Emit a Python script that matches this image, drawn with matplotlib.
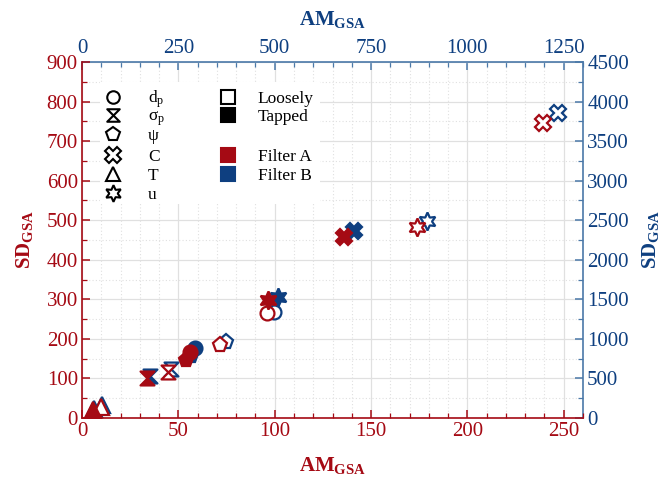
import matplotlib
matplotlib.use("Agg")
import matplotlib.pyplot as plt
from matplotlib.path import Path
from matplotlib.patches import Rectangle
from matplotlib.ticker import MultipleLocator

plt.rcParams['font.family'] = ['Liberation Serif', 'DejaVu Serif']
plt.rcParams['mathtext.fontset'] = 'custom'
plt.rcParams['mathtext.rm'] = 'Liberation Serif'
plt.rcParams['mathtext.it'] = 'Liberation Serif:italic'
plt.rcParams['mathtext.bf'] = 'Liberation Serif:bold'

# ---- data ----
props = ['dp', 'sigma_p', 'psi', 'C', 'T', 'u']
prop_labels = [r'd$_\mathregular{p}$', r'σ$_\mathregular{p}$', 'ψ', 'C', 'T', 'u']

# Filter A (bottom / left axes: AM_GSA, SD_GSA)
A_loose_x = [96, 44.6, 71.6, 239, 9.9, 174]
A_loose_y = [265, 116, 184, 745, 28, 482]
A_tap_x = [56, 33.7, 54, 136, 5.7, 96.5]
A_tap_y = [167, 101, 146, 457, 20, 298]

# Filter B (top / right axes)
B_loose_x = [498, 231, 374, 1235, 53, 895]
B_loose_y = [1340, 619, 961, 3855, 164, 2490]
B_tap_x = [293, 176, 283, 706, 30, 509]
B_tap_y = [885, 531, 784, 2364, 110, 1530]

RED = '#A50A14'
BLUE = '#0E3F80'
BLUE_SP = '#4A78A8'

hourglass = Path([(-1, 1), (1, 1), (-1, -1), (1, -1), (-1, 1)],
                 [Path.MOVETO, Path.LINETO, Path.LINETO, Path.LINETO, Path.CLOSEPOLY])
markers = ['o', hourglass, 'p', 'X', '^', (6, 1, 0)]
msizes = [10, 10, 11, 12, 11, 13]

fig = plt.figure(figsize=(6.72, 4.79), dpi=100)
pos = [82/672, 1-418/479, (583-82)/672, (418-62)/479]

axB = fig.add_axes(pos, zorder=1)
axA = fig.add_axes(pos, zorder=2)
axA.patch.set_visible(False)

# Blue axes: top / right
axB.set_xlim(0, 1300)
axB.set_ylim(0, 4500)
axB.xaxis.tick_top()
axB.yaxis.tick_right()
axB.xaxis.set_major_locator(MultipleLocator(250))
axB.xaxis.set_minor_locator(MultipleLocator(50))
axB.yaxis.set_major_locator(MultipleLocator(500))
axB.yaxis.set_minor_locator(MultipleLocator(250))
axB.grid(which='major', color='#e0e0e0', lw=0.9, ls='-')
axB.grid(which='minor', color='#e0e0e0', lw=0.8, ls=(0, (1, 2)))
axB.set_axisbelow(True)
for s in ['left', 'bottom']:
    axB.spines[s].set_visible(False)
axB.spines['top'].set_color(BLUE_SP)
axB.spines['right'].set_color(BLUE_SP)
axB.spines['top'].set_linewidth(1.2)
axB.spines['right'].set_linewidth(1.2)
axB.tick_params(which='both', direction='in', colors=BLUE_SP, labelcolor=BLUE,
                labelsize=15, top=True, right=True, bottom=False, left=False, pad=3)
axB.tick_params(which='major', length=6, width=1.1)
axB.tick_params(which='minor', length=3.5, width=0.9)
axB.xaxis.set_label_position('top')
axB.yaxis.set_label_position('right')
axB.set_xlabel(r'AM$_{\mathbf{GSA}}$', color=BLUE, fontsize=15, fontweight='bold', labelpad=10)
axB.set_ylabel(r'SD$_{\mathbf{GSA}}$', color=BLUE, fontsize=15, fontweight='bold', labelpad=8)

for i in range(len(props)):
    axB.plot(B_loose_x[i], B_loose_y[i], ls='none', marker=markers[i], ms=msizes[i],
             mfc='white', mec=BLUE, mew=1.6)
    axB.plot(B_tap_x[i], B_tap_y[i], ls='none', marker=markers[i], ms=msizes[i],
             mfc=BLUE, mec=BLUE, mew=1.6)

# Red axes: bottom / left
axA.set_xlim(0, 260)
axA.set_ylim(0, 900)
axA.xaxis.set_major_locator(MultipleLocator(50))
axA.xaxis.set_minor_locator(MultipleLocator(10))
axA.yaxis.set_major_locator(MultipleLocator(100))
axA.yaxis.set_minor_locator(MultipleLocator(50))
for s in ['right', 'top']:
    axA.spines[s].set_visible(False)
axA.spines['left'].set_color(RED)
axA.spines['bottom'].set_color(RED)
axA.spines['left'].set_linewidth(1.2)
axA.spines['bottom'].set_linewidth(1.2)
axA.tick_params(which='both', direction='in', colors=RED, labelcolor=RED,
                labelsize=15, top=False, right=False, pad=3)
axA.tick_params(which='major', length=6, width=1.1)
axA.tick_params(which='minor', length=3.5, width=0.9)
axA.set_xlabel(r'AM$_{\mathbf{GSA}}$', color=RED, fontsize=15, fontweight='bold', labelpad=10)
axA.set_ylabel(r'SD$_{\mathbf{GSA}}$', color=RED, fontsize=15, fontweight='bold', labelpad=8)

for i in range(len(props)):
    axA.plot(A_loose_x[i], A_loose_y[i], ls='none', marker=markers[i], ms=msizes[i],
             mfc='white', mec=RED, mew=1.6)
    axA.plot(A_tap_x[i], A_tap_y[i], ls='none', marker=markers[i], ms=msizes[i],
             mfc=RED, mec=RED, mew=1.6)

# Manual legend (axes-fraction layout)
T = axA.transAxes
axA.add_patch(Rectangle((0.036, 0.60), 0.44, 0.345, transform=T, facecolor='white',
                        edgecolor='none', zorder=5))
col1_mx, col1_tx = 0.062, 0.132
col2_mx, col2_tx = 0.291, 0.351
rows1 = [0.902, 0.851, 0.798, 0.739, 0.685, 0.632]
base_off = 0.016
for i in range(len(props)):
    axA.plot([col1_mx], [rows1[i]], transform=T, ls='none', marker=markers[i],
             ms=msizes[i] - 1, mfc='white', mec='black', mew=1.5, zorder=6, clip_on=False)
    axA.text(col1_tx, rows1[i] - base_off, prop_labels[i], transform=T, fontsize=12.5,
             va='baseline', ha='left', zorder=6)
leg2 = [
    (rows1[0], 'white', 'black', 'Loosely'),
    (rows1[1], 'black', 'black', 'Tapped'),
    (rows1[3], RED, RED, 'Filter A'),
    (rows1[4], BLUE, BLUE, 'Filter B'),
]
for y, fc, ec, lab in leg2:
    axA.plot([col2_mx], [y], transform=T, ls='none', marker='s', ms=10, mfc=fc, mec=ec,
             mew=1.5, zorder=6, clip_on=False)
    axA.text(col2_tx, y - base_off, lab, transform=T, fontsize=12.5, va='baseline',
             ha='left', zorder=6)

fig.savefig('out.png', dpi=100)
